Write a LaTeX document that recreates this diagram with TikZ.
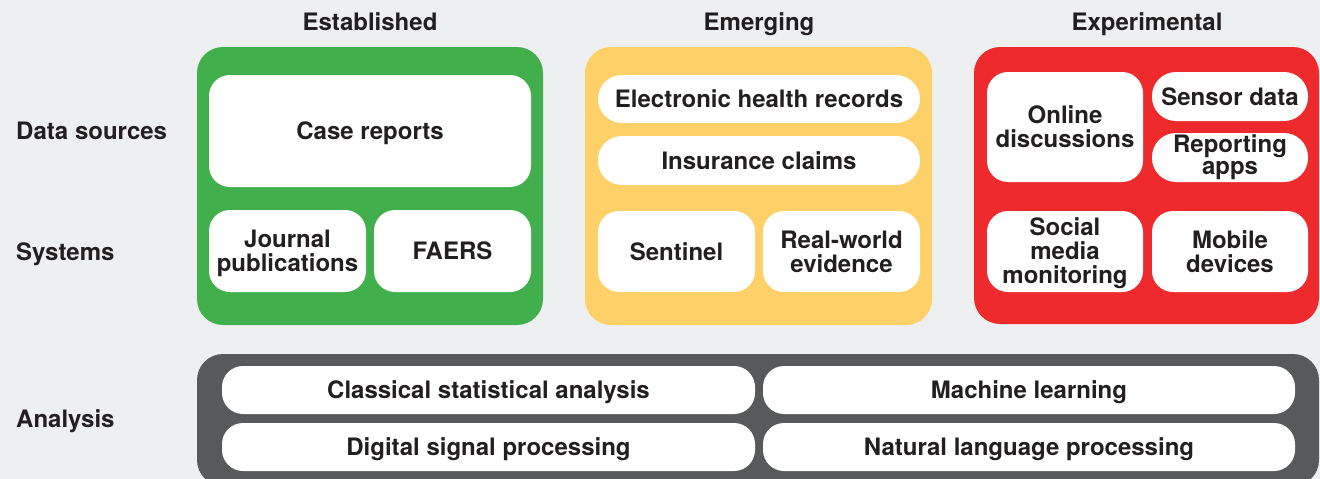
\documentclass[tikz,border=0pt]{standalone}
\usepackage{fontspec}
\setmainfont{TeX Gyre Heros}
\definecolor{bgcol}{HTML}{EDEFF1}
\definecolor{estcol}{HTML}{41AF4B}
\definecolor{emecol}{HTML}{FED068}
\definecolor{expcol}{HTML}{EE2A2C}
\definecolor{anacol}{HTML}{58595B}
\definecolor{txtcol}{HTML}{231F20}
% struts that fix the height and depth of every text block
\newcommand{\boxstrut}{\rule[-5pt]{0pt}{27pt}}
\newcommand{\topstrut}{\rule{0pt}{22pt}}
\newcommand{\botstrut}{\rule[-5pt]{0pt}{5pt}}
\tikzset{
  x=1pt, y=-1pt,
  lbl/.style={inner sep=0pt, text=txtcol, align=center,
    font=\fontsize{24}{24}\selectfont\bfseries,
    execute at begin node={\boxstrut}, execute at end node={\boxstrut}},
  multi/.style={execute at begin node={}, execute at end node={}},
  rowlbl/.style={lbl, anchor=west, align=left},
  panel/.style={rectangle, rounded corners=26pt, inner sep=0pt},
  wbox/.style={lbl, rectangle, fill=white, rounded corners=21pt},
  pill/.style={lbl, rectangle, fill=white, rounded corners=24pt},
}
\begin{document}
\begin{tikzpicture}
% canvas
\fill[bgcol] (0,0) rectangle (1320,479);
\useasboundingbox (0,0) rectangle (1320,479);

% column headings
\node[lbl] (hEst) at (370,22) {Established};
\node[lbl] (hEme) at (759,22) {Emerging};
\node[lbl] (hExp) at (1147,22) {Experimental};

% row labels
\node[rowlbl] (rData) at (16,131) {Data sources};
\node[rowlbl] (rSys) at (16,252) {Systems};
\node[rowlbl] (rAna) at (16,419) {Analysis};

% coloured panels
\node[panel, fill=estcol, minimum width=346pt, minimum height=278pt] (pEst) at (370,186) {};
\node[panel, fill=emecol, minimum width=347pt, minimum height=278pt] (pEme) at (758.5,186) {};
\node[panel, fill=expcol, minimum width=345pt, minimum height=277pt] (pExp) at (1146.5,185.5) {};
\node[panel, fill=anacol, minimum width=1122pt, minimum height=132pt] (pAna) at (758,420) {};

% established
\node[wbox, minimum width=322pt, minimum height=112pt] (case) at (370,131) {Case reports};
\node[wbox, multi, minimum width=157pt, minimum height=82pt] (journal) at (287.5,251) {\topstrut Journal\\publications\botstrut};
\node[wbox, minimum width=157pt, minimum height=82pt] (faers) at (452.5,251) {FAERS};

% emerging
\node[pill, minimum width=322pt, minimum height=48pt] (ehr) at (759,99) {Electronic health records};
\node[pill, minimum width=322pt, minimum height=49pt] (claims) at (759,160.5) {Insurance claims};
\node[wbox, minimum width=157pt, minimum height=81pt] (sentinel) at (676.5,251.5) {Sentinel};
\node[wbox, multi, minimum width=157pt, minimum height=81pt] (rwe) at (841.5,251.5) {\topstrut Real-world\\evidence\botstrut};

% experimental
\node[wbox, multi, minimum width=156pt, minimum height=110pt] (online) at (1065,127) {\topstrut Online\\discussions\botstrut};
\node[pill, minimum width=156pt, minimum height=49pt] (sensor) at (1230,96.5) {Sensor data};
\node[pill, multi, minimum width=156pt, minimum height=49pt] (apps) at (1230,157.5) {Reporting\\[-2pt]apps\botstrut};
\node[wbox, multi, minimum width=156pt, minimum height=81pt] (social) at (1065,251.5) {\topstrut Social\\media\\monitoring\botstrut};
\node[wbox, multi, minimum width=156pt, minimum height=81pt] (mobile) at (1230,251.5) {\topstrut Mobile\\devices\botstrut};

% analysis
\node[wbox, minimum width=533pt, minimum height=48pt] (classical) at (488.5,390) {Classical statistical analysis};
\node[wbox, minimum width=532pt, minimum height=48pt] (ml) at (1029,390) {Machine learning};
\node[wbox, minimum width=533pt, minimum height=48pt] (dsp) at (488.5,447) {Digital signal processing};
\node[wbox, minimum width=532pt, minimum height=48pt] (nlp) at (1029,447) {Natural language processing};
\end{tikzpicture}
\end{document}
